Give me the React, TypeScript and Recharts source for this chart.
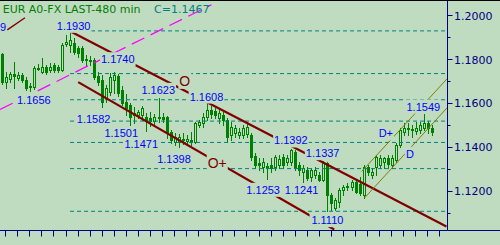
import React from "react";
import { ComposedChart, Bar, XAxis, YAxis, ReferenceLine, ReferenceDot } from "recharts";

// ---------- data ----------
const opens = [
  1.1823, 1.1695, 1.1709, 1.1732, 1.1714, 1.1727, 1.1705, 1.1677, 1.1673, 1.1755,
  1.1741, 1.1764, 1.175, 1.1773, 1.1764, 1.175, 1.1868, 1.1864, 1.1873, 1.185,
  1.185, 1.1795, 1.1795, 1.1795, 1.1723, 1.1705, 1.1623, 1.165, 1.1705, 1.1723,
  1.1659, 1.1605, 1.1591, 1.1555, 1.1545, 1.1545, 1.1536, 1.1532, 1.1518, 1.1532,
  1.1536, 1.1536, 1.1468, 1.1423, 1.1423, 1.1436, 1.1427, 1.1432, 1.1423, 1.15,
  1.1509, 1.1536, 1.1568, 1.1564, 1.1532, 1.1545, 1.1523, 1.1455, 1.1464, 1.1455,
  1.1455, 1.1459, 1.1455, 1.1359, 1.1327, 1.1309, 1.1314, 1.1318, 1.1309, 1.1318,
  1.1355, 1.1332, 1.1332, 1.1377, 1.1318, 1.1286, 1.1295, 1.1264, 1.1273, 1.1273,
  1.125, 1.1327, 1.1182, 1.1123, 1.115, 1.1205, 1.1223, 1.1218, 1.1241, 1.1232,
  1.1182, 1.1309, 1.1273, 1.1309, 1.1318, 1.1332, 1.135, 1.1318, 1.1341, 1.1409,
  1.1468, 1.1486, 1.1482, 1.1473, 1.1477, 1.1486, 1.1509, 1.1486,
];
const highs = [
  1.1827, 1.1741, 1.1741, 1.1786, 1.1741, 1.1736, 1.1718, 1.1691, 1.1768, 1.1777,
  1.1805, 1.1773, 1.1782, 1.1782, 1.1773, 1.1873, 1.1909, 1.193, 1.1895, 1.1859,
  1.1859, 1.1818, 1.1814, 1.1805, 1.1741, 1.1727, 1.1682, 1.1736, 1.174, 1.1732,
  1.1677, 1.1641, 1.16, 1.1582, 1.1568, 1.1586, 1.1555, 1.1559, 1.155, 1.1623,
  1.1555, 1.1541, 1.1477, 1.1464, 1.1459, 1.1464, 1.1455, 1.1468, 1.1514, 1.1523,
  1.1555, 1.1608, 1.1586, 1.1577, 1.1577, 1.1559, 1.1532, 1.1514, 1.15, 1.1486,
  1.15, 1.1509, 1.1464, 1.1373, 1.135, 1.135, 1.1327, 1.135, 1.1364, 1.1364,
  1.1368, 1.1364, 1.1392, 1.1386, 1.1332, 1.1318, 1.1309, 1.1305, 1.1309, 1.1286,
  1.1337, 1.1332, 1.1191, 1.1168, 1.1214, 1.1227, 1.1236, 1.125, 1.125, 1.1264,
  1.1318, 1.1318, 1.1305, 1.1364, 1.1364, 1.1355, 1.1364, 1.1364, 1.1418, 1.1486,
  1.1509, 1.1509, 1.15, 1.1514, 1.1514, 1.1549, 1.1518, 1.15,
];
const lows = [
  1.1686, 1.1668, 1.1695, 1.1668, 1.1705, 1.1695, 1.1659, 1.1656, 1.1664, 1.175,
  1.1736, 1.1732, 1.1741, 1.1741, 1.1741, 1.1745, 1.1859, 1.1832, 1.1823, 1.1809,
  1.1786, 1.1773, 1.1773, 1.1709, 1.1682, 1.1582, 1.1605, 1.1636, 1.1645, 1.1632,
  1.1591, 1.1545, 1.1501, 1.1509, 1.1532, 1.1523, 1.1471, 1.1495, 1.1505, 1.1514,
  1.1514, 1.1441, 1.1418, 1.1409, 1.1398, 1.1414, 1.1418, 1.1409, 1.1418, 1.1491,
  1.1491, 1.1523, 1.1532, 1.1532, 1.1509, 1.15, 1.1423, 1.1432, 1.1445, 1.1441,
  1.1441, 1.1445, 1.1341, 1.1305, 1.1295, 1.1286, 1.1253, 1.1286, 1.1295, 1.1305,
  1.1305, 1.1318, 1.1318, 1.1295, 1.1273, 1.1241, 1.125, 1.1245, 1.1259, 1.1245,
  1.1245, 1.111, 1.1114, 1.1114, 1.1127, 1.1182, 1.1205, 1.1205, 1.1191, 1.1182,
  1.1168, 1.1273, 1.1259, 1.1273, 1.1305, 1.1305, 1.1309, 1.1305, 1.1332, 1.14,
  1.1455, 1.1455, 1.1445, 1.1459, 1.1464, 1.1477, 1.1464, 1.1455,
];
const closes = [
  1.1695, 1.1718, 1.1732, 1.1723, 1.1727, 1.1705, 1.1668, 1.1673, 1.1759, 1.1759,
  1.1764, 1.1741, 1.1764, 1.175, 1.175, 1.1864, 1.1877, 1.1886, 1.1832, 1.1827,
  1.1795, 1.18, 1.1791, 1.1718, 1.1695, 1.1605, 1.1668, 1.1718, 1.1727, 1.1645,
  1.16, 1.1577, 1.1536, 1.1545, 1.1559, 1.1577, 1.1518, 1.1518, 1.1536, 1.1536,
  1.1527, 1.1468, 1.1432, 1.1445, 1.1445, 1.1432, 1.1436, 1.1423, 1.1509, 1.1514,
  1.1536, 1.1568, 1.155, 1.1545, 1.1555, 1.1523, 1.1445, 1.1491, 1.1486, 1.1468,
  1.1486, 1.1491, 1.1355, 1.1318, 1.1318, 1.1332, 1.1305, 1.1305, 1.1355, 1.1345,
  1.1318, 1.135, 1.1386, 1.1305, 1.1295, 1.1305, 1.1259, 1.1295, 1.1295, 1.125,
  1.1327, 1.1182, 1.1145, 1.1159, 1.1205, 1.1218, 1.1218, 1.1241, 1.1195, 1.1191,
  1.1309, 1.1286, 1.1286, 1.1355, 1.135, 1.135, 1.1323, 1.135, 1.1409, 1.1477,
  1.1486, 1.1482, 1.1477, 1.1486, 1.15, 1.1509, 1.1486, 1.1467,
];

const xTicks = [1, 4, 7, 10, 13, 16, 19, 22, 25, 28, 31, 34, 37, 40, 43, 46, 49, 52, 55, 58, 61, 64, 67, 70, 73, 76, 79, 82, 85, 88, 91, 94, 97, 100, 103, 106, 109];
const yTicks = [1.11, 1.12, 1.13, 1.14, 1.15, 1.16, 1.17, 1.18, 1.19, 1.2];
const yLabelTicks = [1.12, 1.14, 1.16, 1.18, 1.2];

// Fibonacci retracement levels of the 1.1930 -> 1.1110 swing
const fibLevels = [1.193, 1.1736, 1.1617, 1.152, 1.1423, 1.1304, 1.111];
const fibStartIndex = 17;

// swing-point price annotations
const pivotIndex = [17, 28, 7, 39, 51, 25, 32, 36, 44, 72, 80, 66, 75, 81, 105];
const pivotPrice = [1.193, 1.174, 1.1656, 1.1623, 1.1608, 1.1582, 1.1501, 1.1471, 1.1398, 1.1392, 1.1337, 1.1253, 1.1241, 1.111, 1.1549];

// trend lines [x1, y1, x2, y2] in (bar index, price)
const resistanceLine = [17.4, 1.1925, 110.6, 1.1041];
const supportLine = [19.03, 1.1697, 82.7, 1.1027];
const shortLine = [1.39, 1.1935, 5.79, 1.199];
const magentaLine = [-0.4, 1.1573, 52.17, 1.2049];
const channelUpper = [89.52, 1.1291, 110.85, 1.1714];
const channelLower = [90.26, 1.1171, 110.85, 1.1582];

// text marks [x index, price at baseline, text]
const marks: [number, number, string][] = [
  [45.54, 1.168, "O"],
  [53.61, 1.1306, "O+"],
];
const channelMarks: [number, number, string][] = [
  [95.53, 1.1446, "D+"],
  [101.51, 1.1353, "D"],
];
const edgeMarks: [number, number, string][] = [[0.32, 1.1929, "9"]];

// ---------- layout / style ----------
const X_DOMAIN: [number, number] = [-0.422, 110.87];
const Y_DOMAIN: [number, number] = [1.10227, 1.20682];
const BG = "#C0DCC0";
const NAVY = "#000080";
const GREEN = "#008000";
const TEAL = "#008080";
const DARKRED = "#800000";
const BLUE = "#0000FF";
const LIB = "'Liberation Sans', Arial, sans-serif";
const DEJA = "'DejaVu Sans', sans-serif";

// label offsets in px (centre-x offset, baseline offset) relative to pivot point
const labelOffsets: [number, number][] = [
  [3.6, -1.1], [3.5, -9.5], [4, 12.6], [-0.3, -4.6], [-0.3, -1.2],
  [-8.6, 16], [-9.1, 11.9], [-5.2, 16.3], [-4.6, 15.3], [-0.3, -4.8],
  [-0.7, -4.2], [-3.9, 14], [-1.6, 12], [0, 12.8], [-0.6, -4.2],
];

const charW: Record<string, number> = { ".": 0.278, "+": 0.584, D: 0.722, O: 0.778 };
const measure = (t: string, size: number) =>
  t.split("").reduce((s, c) => s + (charW[c] ?? 0.556) * size, 0);

const Candle = (props: any) => {
  const { x, y, width, height, payload } = props;
  if (x == null || y == null || !payload) return null;
  const top = Math.min(y, y + height);
  const bot = Math.max(y, y + height);
  const { open, close, high, low } = payload;
  const span = high - low || 1e-9;
  const py = (v: number) => top + ((high - v) / span) * (bot - top);
  const cx = Math.round(x + width / 2 - 0.5);
  const up = close >= open;
  const bTop = Math.round(py(Math.max(open, close)) - 0.5);
  const bBot = Math.max(bTop, Math.round(py(Math.min(open, close)) - 0.5));
  const wTop = Math.round(top - 0.5);
  const wBot = Math.round(bot - 0.5);
  if (up) {
    return (
      <g>
        <line x1={cx + 0.5} x2={cx + 0.5} y1={wTop} y2={bTop} stroke={GREEN} strokeWidth={1} />
        <line x1={cx + 0.5} x2={cx + 0.5} y1={bBot + 1} y2={wBot + 1} stroke={GREEN} strokeWidth={1} />
        <rect x={cx - 0.5} y={bTop + 0.5} width={2} height={Math.max(bBot - bTop, 0.01)} fill={BG} stroke={GREEN} strokeWidth={1} />
      </g>
    );
  }
  return (
    <g>
      <line x1={cx + 0.5} x2={cx + 0.5} y1={wTop} y2={wBot + 1} stroke={GREEN} strokeWidth={1} />
      <rect x={cx - 1} y={bTop} width={3} height={bBot - bTop + 1} fill={GREEN} />
    </g>
  );
};

const YTick = (props: any) => {
  const { x, y, payload } = props;
  const v = payload.value as number;
  const ax = x - 6;
  const major = yLabelTicks.some((t) => Math.abs(t - v) < 1e-6);
  return (
    <g>
      <line x1={ax} x2={ax + (major ? 5 : 3)} y1={y} y2={y} stroke={NAVY} strokeWidth={1} />
      {major && (
        <text x={ax + 6.5} y={y + 4} fill={NAVY} fontFamily={DEJA} fontSize={11}>
          {v.toFixed(4)}
        </text>
      )}
    </g>
  );
};

const XTick = (props: any) => {
  const { x, y } = props;
  const px = Math.round(x - 0.5) + 0.5;
  const ay = y - 6;
  return <line x1={px} x2={px} y1={ay} y2={ay + 6} stroke={NAVY} strokeWidth={1} />;
};

const textShape = (text: string, dx: number, dy: number, color: string, size: number, family: string, box: boolean) =>
  (p: any) => {
    if (p.cx == null || p.cy == null) return <g />;
    const cx = p.cx + dx;
    const base = p.cy + dy;
    const w = measure(text, size);
    return (
      <g>
        {box && <rect x={cx - w / 2 - 1} y={base - size} width={w + 2} height={size + 3} fill={BG} />}
        <text x={cx} y={base} textAnchor="middle" fill={color} fontFamily={family} fontSize={size}>
          {text}
        </text>
      </g>
    );
  };

const seg = (l: number[]) => [
  { x: l[0], y: l[1] },
  { x: l[2], y: l[3] },
];

export default function App() {
  const data = opens.map((o, i) => ({
    i,
    open: o,
    high: highs[i],
    low: lows[i],
    close: closes[i],
    range: [lows[i], highs[i]],
  }));
  const lastClose = closes[closes.length - 1];

  return (
    <div style={{ position: "absolute", left: 0, top: 0, width: 500, height: 245, background: BG, overflow: "hidden" }}>
      <ComposedChart width={500} height={245} data={data} margin={{ top: 0.5, right: 0.5, bottom: 0, left: 0 }}>
        <XAxis
          dataKey="i"
          type="number"
          domain={X_DOMAIN}
          ticks={xTicks}
          tick={<XTick />}
          tickLine={false}
          tickSize={6}
          tickMargin={0}
          stroke={NAVY}
          height={14.5}
          allowDataOverflow
          interval={0}
        />
        <YAxis
          orientation="right"
          type="number"
          domain={Y_DOMAIN}
          ticks={yTicks}
          tick={<YTick />}
          tickLine={false}
          tickSize={5}
          tickMargin={1}
          stroke={NAVY}
          width={52}
          allowDataOverflow
          interval={0}
        />
        {fibLevels.map((l, k) => (
          <ReferenceLine
            key={"fib" + k}
            segment={[{ x: fibStartIndex, y: l }, { x: X_DOMAIN[1], y: l }]}
            stroke={TEAL}
            strokeDasharray="4 3"
            strokeWidth={1}
            ifOverflow="visible"
          />
        ))}
        <ReferenceLine segment={seg(magentaLine)} stroke="#FF00FF" strokeWidth={1.3} strokeDasharray="14 7" ifOverflow="visible" />
        <Bar dataKey="range" barSize={3} shape={<Candle />} isAnimationActive={false} />
        <ReferenceLine segment={seg(resistanceLine)} stroke={DARKRED} strokeWidth={2.2} ifOverflow="visible" />
        <ReferenceLine segment={seg(supportLine)} stroke={DARKRED} strokeWidth={2.2} ifOverflow="visible" />
        <ReferenceLine segment={seg(shortLine)} stroke={DARKRED} strokeWidth={1.4} ifOverflow="visible" />
        <ReferenceLine segment={seg(channelUpper)} stroke="#808000" strokeWidth={1} ifOverflow="visible" />
        <ReferenceLine segment={seg(channelLower)} stroke="#808000" strokeWidth={1} ifOverflow="visible" />
        {pivotIndex.map((pi, k) => (
          <ReferenceDot
            key={"pv" + k}
            x={pi}
            y={pivotPrice[k]}
            r={0}
            ifOverflow="visible"
            shape={textShape(pivotPrice[k].toFixed(4), labelOffsets[k][0], labelOffsets[k][1], BLUE, 11, LIB, true)}
          />
        ))}
        {marks.map((m, k) => (
          <ReferenceDot key={"mk" + k} x={m[0]} y={m[1]} r={0} ifOverflow="visible" shape={textShape(m[2], 0, 0, DARKRED, 14, LIB, true)} />
        ))}
        {channelMarks.map((m, k) => (
          <ReferenceDot key={"cm" + k} x={m[0]} y={m[1]} r={0} ifOverflow="visible" shape={textShape(m[2], 0, 0, BLUE, 11, LIB, true)} />
        ))}
        {edgeMarks.map((m, k) => (
          <ReferenceDot key={"em" + k} x={m[0]} y={m[1]} r={0} ifOverflow="visible" shape={textShape(m[2], 0, 0, BLUE, 11, LIB, false)} />
        ))}
      </ComposedChart>
      <svg width={500} height={245} style={{ position: "absolute", left: 0, top: 0, pointerEvents: "none" }}>
        <line x1={0} x2={500} y1={0.5} y2={0.5} stroke="#000000" strokeWidth={1} />
        <line x1={447.5} x2={500} y1={230.5} y2={230.5} stroke={NAVY} strokeWidth={1} />
        <text x={2.7} y={12.7} fill={GREEN} fontFamily={DEJA} fontSize={11}>
          EUR A0-FX LAST-480 min
        </text>
        <text x={154} y={12.7} fill={TEAL} fontFamily={DEJA} fontSize={11}>
          {"C=" + lastClose.toFixed(4)}
        </text>
      </svg>
    </div>
  );
}
